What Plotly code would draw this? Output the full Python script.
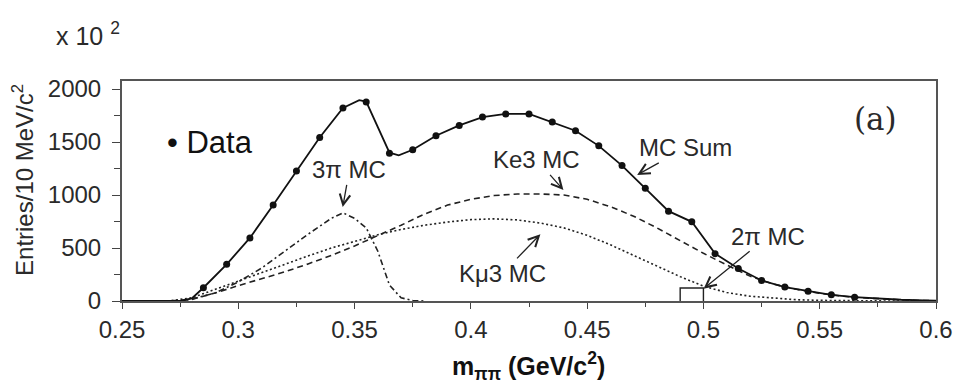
import plotly.graph_objects as go

# ---- data ----
data_x = [0.285, 0.295, 0.305, 0.315, 0.325, 0.335, 0.345, 0.355, 0.365, 0.375,
          0.385, 0.395, 0.405, 0.415, 0.425, 0.435, 0.445, 0.455, 0.465, 0.475,
          0.485, 0.495, 0.505, 0.515, 0.525, 0.535, 0.545, 0.555, 0.565]
data_y = [125, 346, 595, 905, 1227, 1543, 1822, 1879, 1395, 1427,
          1559, 1657, 1736, 1765, 1765, 1689, 1607, 1464, 1278, 1063,
          848, 747, 447, 306, 194, 131, 93, 58, 36]

sum_x = [0.25, 0.27, 0.276, 0.28, 0.285, 0.295, 0.305, 0.315, 0.325, 0.335, 0.345,
         0.352, 0.355, 0.365, 0.369, 0.375, 0.385, 0.395, 0.405, 0.415, 0.425,
         0.435, 0.445, 0.455, 0.465, 0.475, 0.485, 0.495, 0.505, 0.515, 0.525,
         0.535, 0.545, 0.555, 0.565, 0.575, 0.585, 0.595, 0.6]
sum_y = [0, 0, 3, 25, 125, 346, 595, 905, 1227, 1543, 1822,
         1895, 1882, 1400, 1375, 1427, 1559, 1657, 1736, 1765, 1765,
         1689, 1607, 1464, 1278, 1063, 848, 747, 447, 306, 194,
         131, 93, 58, 36, 22, 12, 5, 3]

comp_x = [0.25, 0.27, 0.28, 0.29, 0.30, 0.31, 0.32, 0.33, 0.34, 0.35, 0.36, 0.37,
          0.38, 0.39, 0.40, 0.41, 0.42, 0.43, 0.44, 0.45, 0.46, 0.47, 0.48,
          0.49, 0.50, 0.51, 0.52, 0.53, 0.54, 0.55, 0.56, 0.57, 0.58, 0.59, 0.60]
ke3_y = [0, 0, 15, 75, 145, 210, 275, 350, 430, 520, 615, 715,
         820, 905, 960, 995, 1010, 1010, 1000, 960, 890, 800, 690,
         570, 450, 340, 235, 160, 110, 72, 45, 28, 15, 6, 2]
kmu3_y = [0, 0, 30, 110, 190, 270, 345, 425, 500, 565, 625, 675,
          715, 745, 768, 775, 765, 735, 690, 620, 530, 430, 330,
          230, 140, 80, 45, 25, 12, 6, 2, 0, 0, 0, 0]

pi3_x = [0.25, 0.275, 0.28, 0.29, 0.30, 0.31, 0.32, 0.33, 0.34, 0.345, 0.35,
         0.355, 0.36, 0.365, 0.37, 0.375, 0.38]
pi3_y = [0, 0, 20, 75, 180, 310, 470, 630, 780, 832, 780,
         690, 470, 150, 30, 5, 0]

pi2_x = [0.49, 0.49, 0.50, 0.50]
pi2_y = [0, 122, 122, 0]

x_ticks = [0.25, 0.3, 0.35, 0.4, 0.45, 0.5, 0.55, 0.6]
x_tick_labels = ["0.25", "0.3", "0.35", "0.4", "0.45", "0.5", "0.55", "0.6"]
y_ticks = [0, 500, 1000, 1500, 2000]

FONT = "Liberation Sans, Arial, sans-serif"
TXT = "#2a2a2a"

fig = go.Figure()
fig.add_trace(go.Scatter(x=comp_x, y=kmu3_y, mode="lines",
                         line=dict(color="#222", width=1.6, dash="2px,2.5px")))
fig.add_trace(go.Scatter(x=comp_x, y=ke3_y, mode="lines",
                         line=dict(color="#222", width=1.6, dash="6px,4px")))
fig.add_trace(go.Scatter(x=pi3_x, y=pi3_y, mode="lines",
                         line=dict(color="#222", width=1.6, dash="6px,3px,2px,3px")))
fig.add_trace(go.Scatter(x=pi2_x, y=pi2_y, mode="lines",
                         line=dict(color="#222", width=1.4)))
fig.add_trace(go.Scatter(x=sum_x, y=sum_y, mode="lines",
                         line=dict(color="#111", width=1.8)))
fig.add_trace(go.Scatter(x=data_x, y=data_y, mode="markers",
                         marker=dict(color="#111", size=7)))

def arrow(text, tx, ty, tipx, tipy, size=24):
    fig.add_annotation(x=tipx, y=tipy, ax=tx, ay=ty, xref="x", yref="y",
                       axref="x", ayref="y", text=text, showarrow=True,
                       font=dict(family=FONT, size=size, color=TXT),
                       arrowhead=5, arrowsize=1.6, arrowwidth=1.3, arrowcolor="#222",
                       borderpad=1)

arrow("3π MC", 0.3478, 1237, 0.3449, 886)
arrow("Ke3 MC", 0.4284, 1332, 0.4398, 1047)
arrow("Kμ3 MC", 0.4136, 261, 0.4299, 630)
arrow("MC Sum", 0.4924, 1445, 0.4715, 1190)
arrow("2π MC", 0.5278, 611, 0.5001, 116)

fig.add_annotation(x=0.5740, y=1720, xref="x", yref="y", text="(a)", showarrow=False,
                   xanchor="center", yanchor="middle",
                   font=dict(family="DejaVu Serif, serif", size=31, color=TXT))
fig.add_annotation(x=0.2683, y=1493, xref="x", yref="y", xanchor="left", yanchor="middle",
                   text="• Data", showarrow=False,
                   font=dict(family=FONT, size=31, color="#111"))

W, H = 965, 386
L, R, T, B = 122, 21, 81, 85
pw, ph = W - L - R, H - T - B
def px(x):
    return (x - L) / pw
def py(y):
    return (H - B - y) / ph

fig.add_annotation(x=px(53), y=py(34), xref="paper", yref="paper", xanchor="left",
                   yanchor="middle", text="x 10 <sup>2</sup>", showarrow=False,
                   font=dict(family=FONT, size=25, color=TXT))
fig.add_annotation(x=px(22), y=py(180), xref="paper", yref="paper", textangle=-90,
                   xanchor="center", yanchor="middle",
                   text="Entries/10 MeV/c<sup>2</sup>", showarrow=False,
                   font=dict(family=FONT, size=24, color=TXT))
fig.add_annotation(x=px(532), y=py(366), xref="paper", yref="paper",
                   xanchor="center", yanchor="middle",
                   text="<b>m<sub>ππ</sub> (GeV/c<sup>2</sup>)</b>", showarrow=False,
                   font=dict(family=FONT, size=25, color="#111"))

fig.update_layout(
    width=W, height=H, margin=dict(l=L, r=R, t=T, b=B),
    paper_bgcolor="white", plot_bgcolor="white", showlegend=False,
    font=dict(family=FONT, color=TXT),
)
fig.update_xaxes(range=[0.25, 0.6], tickvals=x_ticks, ticktext=x_tick_labels,
                 showgrid=False, zeroline=False, showline=True, mirror=True,
                 linecolor="#555", linewidth=2, ticks="outside", ticklen=6,
                 tickcolor="#444", tickfont=dict(size=24, color=TXT),
                 minor=dict(dtick=0.025, ticks="outside", ticklen=4, tickcolor="#444"))
fig.update_yaxes(range=[0, 2076], tickvals=y_ticks, showgrid=False, zeroline=False,
                 showline=True, mirror=True, linecolor="#555", linewidth=2,
                 ticks="outside", ticklen=8, tickcolor="#444",
                 tickfont=dict(size=24, color=TXT), ticklabelstandoff=6,
                 minor=dict(tickvals=[250, 750, 1250, 1750], ticks="outside",
                            ticklen=6, tickcolor="#444"))

fig.write_html("out.html")
